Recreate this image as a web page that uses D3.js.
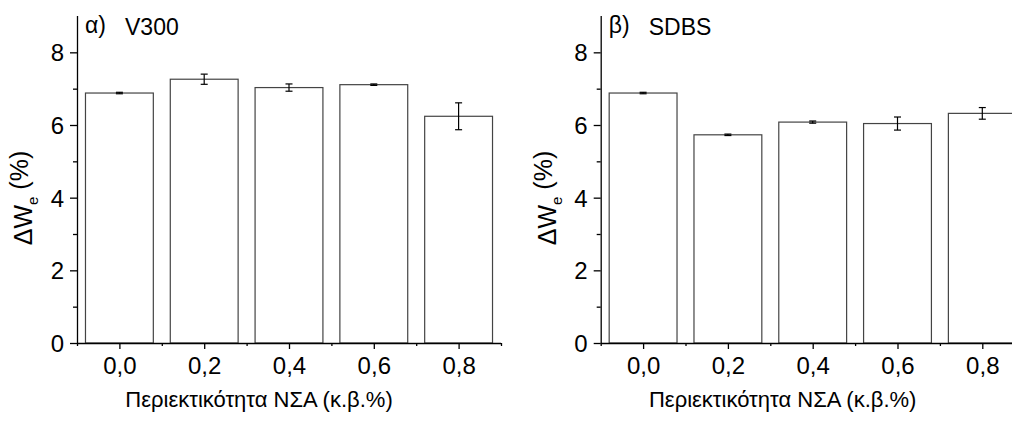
<!DOCTYPE html>
<html>
<head>
<meta charset="utf-8">
<script src="https://cdn.jsdelivr.net/npm/d3@7"></script>
<style>
  html, body { margin: 0; padding: 0; background: #fff; }
  svg { display: block; }
  text { font-family: "Liberation Sans", Arial, sans-serif; fill: #000; }
</style>
</head>
<body>
<svg id="chart" width="1012" height="421"></svg>
<script>
// ---- data ----
const categories = [0.0, 0.2, 0.4, 0.6, 0.8];
const xTickLabels = ["0,0", "0,2", "0,4", "0,6", "0,8"];
const yTicks = [0, 2, 4, 6, 8];
const yMinorTicks = [1, 3, 5, 7];
const xMinorTicks = [-0.1, 0.1, 0.3, 0.5, 0.7, 0.9];
const v300Values = [6.88, 7.26, 7.03, 7.11, 6.24];
const v300Errors = [0.02, 0.14, 0.10, 0.02, 0.37];
const sdbsValues = [6.88, 5.73, 6.08, 6.04, 6.32];
const sdbsErrors = [0.02, 0.02, 0.03, 0.18, 0.16];
const panelLabels = ["α)", "β)"];
const panelNames = ["V300", "SDBS"];
const xTitle = "Περιεκτικότητα ΝΣΑ (κ.β.%)";

const svg = d3.select("#chart");
const barWidth = 0.16;

const panels = [
  { x0: 77, values: v300Values, errors: v300Errors, label: panelLabels[0], name: panelNames[0] },
  { x0: 600.7, values: sdbsValues, errors: sdbsErrors, label: panelLabels[1], name: panelNames[1] }
];

const plotTop = 16, plotBottom = 343, axisLen = 424;

panels.forEach(p => {
  const g = svg.append("g");
  const x = d3.scaleLinear().domain([-0.1, 0.9]).range([p.x0, p.x0 + axisLen]);
  const y = d3.scaleLinear().domain([0, 9]).range([plotBottom, plotTop]);

  const data = categories.map((c, i) => ({ c, v: p.values[i], e: p.errors[i] }));

  // bars
  g.selectAll("rect.bar").data(data).enter().append("rect")
    .attr("class", "bar")
    .attr("x", d => x(d.c - barWidth / 2))
    .attr("width", d => x(d.c + barWidth / 2) - x(d.c - barWidth / 2))
    .attr("y", d => y(d.v))
    .attr("height", d => y(0) - y(d.v))
    .attr("fill", "#fff")
    .attr("stroke", "#444")
    .attr("stroke-width", 1.2);

  // error bars
  const eb = g.selectAll("g.err").data(data).enter().append("g").attr("class", "err");
  eb.append("line")
    .attr("x1", d => x(d.c)).attr("x2", d => x(d.c))
    .attr("y1", d => y(d.v + d.e)).attr("y2", d => y(d.v - d.e))
    .attr("stroke", "#000").attr("stroke-width", 1.2);
  eb.append("line")
    .attr("x1", d => x(d.c) - 3.5).attr("x2", d => x(d.c) + 3.5)
    .attr("y1", d => y(d.v + d.e)).attr("y2", d => y(d.v + d.e))
    .attr("stroke", "#000").attr("stroke-width", 1.2);
  eb.append("line")
    .attr("x1", d => x(d.c) - 3.5).attr("x2", d => x(d.c) + 3.5)
    .attr("y1", d => y(d.v - d.e)).attr("y2", d => y(d.v - d.e))
    .attr("stroke", "#000").attr("stroke-width", 1.2);

  // y axis
  const yAxis = d3.axisLeft(y).tickValues(yTicks).tickSize(7).tickPadding(6).tickFormat(d3.format("d"));
  const ya = g.append("g").attr("transform", `translate(${p.x0},0)`).call(yAxis);
  ya.select(".domain").attr("d", `M0.5,${plotTop}V${plotBottom}`).attr("stroke", "#000").attr("stroke-width", 1.3);
  ya.selectAll(".tick line").attr("stroke", "#000").attr("stroke-width", 1.3);
  ya.selectAll(".tick text").style("font-size", "24px").attr("dy", "0.35em");
  const yMinor = d3.axisLeft(y).tickValues(yMinorTicks).tickSize(4).tickFormat("");
  const ym = g.append("g").attr("transform", `translate(${p.x0},0)`).call(yMinor);
  ym.select(".domain").remove();
  ym.selectAll(".tick line").attr("stroke", "#000").attr("stroke-width", 1.3);

  // x axis
  const xAxis = d3.axisBottom(x).tickValues(categories).tickSize(6).tickPadding(8)
    .tickFormat((d, i) => xTickLabels[i]);
  const xa = g.append("g").attr("transform", `translate(0,${plotBottom})`).call(xAxis);
  xa.select(".domain").attr("d", `M${p.x0},0.5H${p.x0 + axisLen}`).attr("stroke", "#000").attr("stroke-width", 1.3);
  xa.selectAll(".tick line").attr("stroke", "#000").attr("stroke-width", 1.3);
  xa.selectAll(".tick text").style("font-size", "24px");
  const xMinor = d3.axisBottom(x).tickValues(xMinorTicks).tickSize(3).tickFormat("");
  const xm = g.append("g").attr("transform", `translate(0,${plotBottom})`).call(xMinor);
  xm.select(".domain").remove();
  xm.selectAll(".tick line").attr("stroke", "#000").attr("stroke-width", 1.3);

  // x title
  g.append("text")
    .attr("x", p.x0 + 182).attr("y", 407)
    .attr("text-anchor", "middle")
    .style("font-size", "22px")
    .text(xTitle);

  // y title
  const yt = g.append("text")
    .attr("transform", `translate(${p.x0 - 45},198) rotate(-90)`)
    .attr("text-anchor", "middle")
    .style("font-size", "25px");
  yt.append("tspan").text("ΔW");
  yt.append("tspan").attr("dy", "0.4em").style("font-size", "15px").text("e");
  yt.append("tspan").attr("dy", "-0.4em").text(" (%)");

  // panel label
  g.append("text")
    .attr("x", p.x0 + 8).attr("y", 33)
    .style("font-size", "23px")
    .text(p.label);
  g.append("text")
    .attr("x", p.x0 + 48).attr("y", 35)
    .style("font-size", "23px")
    .text(p.name);
});
</script>
</body>
</html>
